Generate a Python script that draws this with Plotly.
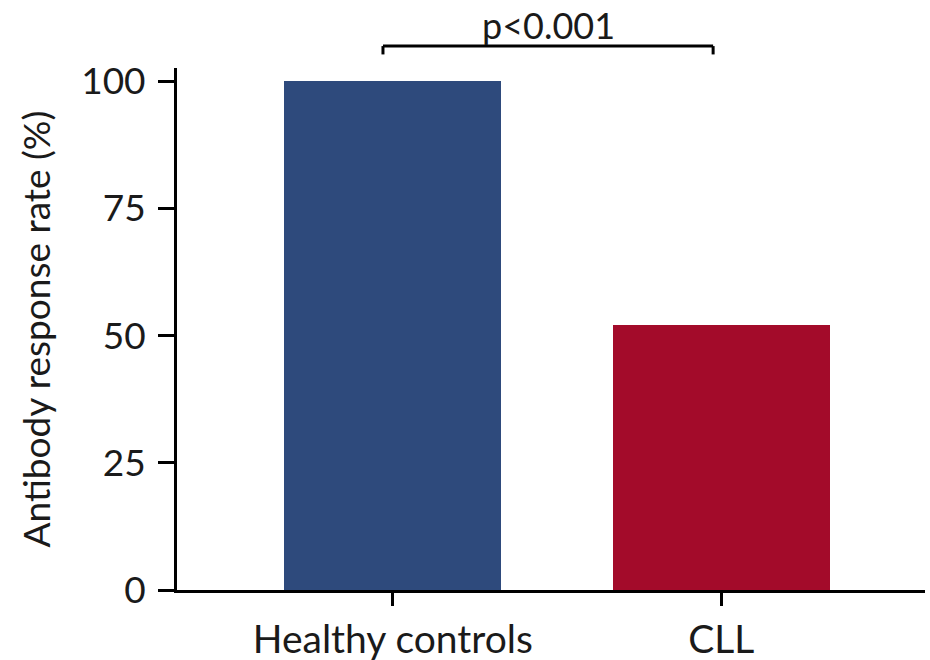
import plotly.graph_objects as go

categories = ["Healthy controls", "CLL"]
values = [100, 52]
colors = ["#2E4A7C", "#A30B2A"]
y_ticks = [0, 25, 50, 75, 100]
p_label = "p<0.001"

fig = go.Figure()
fig.add_trace(go.Bar(
    x=categories, y=values, marker=dict(color=colors, line=dict(width=0)),
    width=0.66, showlegend=False,
))

FONT = "Lato"
fig.update_layout(
    width=930, height=660,
    margin=dict(l=177, r=5, t=68, b=70),
    plot_bgcolor="white", paper_bgcolor="white",
    font=dict(family=FONT, color="#1a1a1a", size=34),
    xaxis=dict(
        range=[-0.657, 1.62], showline=True, linecolor="black", linewidth=3,
        ticks="outside", ticklen=13, tickwidth=3, tickcolor="black",
        tickfont=dict(size=39), showgrid=False, zeroline=False, automargin=False,
    ),
    yaxis=dict(
        range=[0, 102.6], showline=True, linecolor="black", linewidth=3,
        ticks="outside", ticklen=16, tickwidth=3, tickcolor="black",
        tickvals=y_ticks, tickfont=dict(size=37), showgrid=False, zeroline=False,
        automargin=False, ticklabelstandoff=5,
        title=dict(text="Antibody response rate (%)", font=dict(size=37), standoff=20),
    ),
    bargap=0,
)

# significance bracket
bx0, bx1 = -0.03, 0.975
fig.add_shape(type="line", xref="x", yref="paper", x0=bx0, x1=bx1, y0=1.042, y1=1.042,
              line=dict(color="black", width=3))
fig.add_shape(type="line", xref="x", yref="paper", x0=bx0, x1=bx0, y0=1.042, y1=1.026,
              line=dict(color="black", width=3))
fig.add_shape(type="line", xref="x", yref="paper", x0=bx1, x1=bx1, y0=1.042, y1=1.026,
              line=dict(color="black", width=3))
fig.add_annotation(x=(bx0 + bx1) / 2, xref="x", y=1.082, yref="paper", text=p_label,
                   showarrow=False, yanchor="middle", font=dict(size=36, family=FONT))

fig.write_html("out.html")
